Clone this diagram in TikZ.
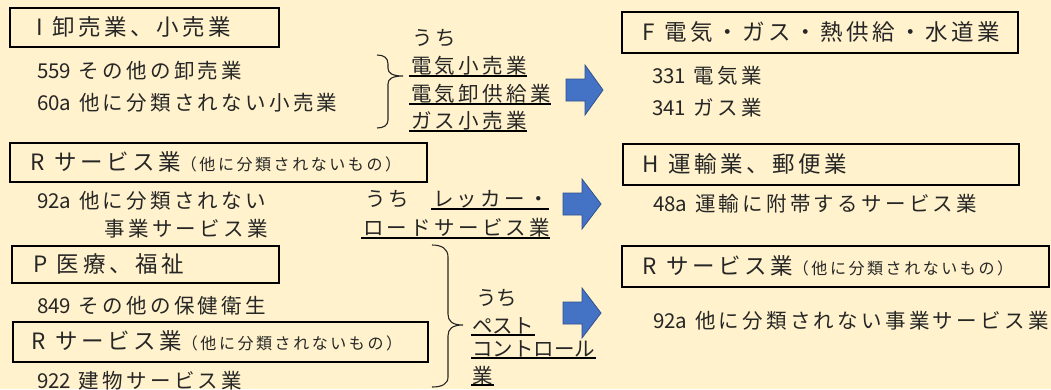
\documentclass[tikz,border=0pt]{standalone}
\usepackage{fontspec}
\setmainfont{Noto Sans CJK JP}[LetterSpace=16]
\newfontfamily\lat{Noto Sans CJK JP}
\definecolor{bg}{HTML}{FFF2CC}
\definecolor{ink}{HTML}{262626}
\definecolor{arrowfill}{HTML}{4472C4}
\definecolor{arrowline}{HTML}{2F528F}
\newcommand\hsz{\fontsize{22.5}{27}\selectfont}
\newcommand\isz{\fontsize{20.5}{25}\selectfont}
\newcommand\ssz{\fontsize{16}{20}\selectfont}
\newcommand\hgap{\hspace{4.5pt}}
\newcommand\igap{\hspace{3pt}}
\tikzset{
  boxn/.style={draw=black, line width=2pt, inner sep=0pt, anchor=north west},
  hdr/.style={anchor=base west, inner sep=0pt, text=ink, font=\hsz},
  itm/.style={anchor=base west, inner sep=0pt, text=ink, font=\isz},
  tight/.style={itm, font=\isz\lat},
  ul/.style={line width=1.5pt, black},
  brc/.style={line width=1.1pt, ink},
  bigarrow/.style={fill=arrowfill, draw=arrowline, line width=0.8pt, line join=miter},
}
\begin{document}
\begin{tikzpicture}[x=1pt,y=-1pt]
\fill[bg] (0,0) rectangle (1051,389);
\useasboundingbox (0,0) rectangle (1051,389);
% Row 1
\node[boxn, minimum width=269pt, minimum height=39pt] (bI) at (9,7) {};
\node[hdr] (hI) at (36,35) {{\lat I }\hgap 卸売業、小売業};
\node[itm] (i559) at (37,78) {{\lat 559 }\igap その他の卸売業};
\node[itm] (i60a) at (37,110) {{\lat 60a }\igap 他に分類されない小売業};
\node[itm] (uchi1) at (412,45) {うち};
\node[itm] (u11) at (411,73) {電気小売業};
\node[itm] (u12) at (411,101) {電気卸供給業};
\node[itm] (u13) at (411,128) {ガス小売業};
\foreach \n in {u11,u12,u13}
  \draw[ul] ([xshift=-2pt,yshift=-3pt]\n.base west) -- ([yshift=-3pt]\n.base east);
\draw[brc] (377,55) .. controls (384,55) and (388,58) .. (388,64) -- (388,68)
  .. controls (388,73) and (392,76) .. (403,76)
  .. controls (392,76) and (388,79) .. (388,84) -- (388,120)
  .. controls (388,125) and (384,128) .. (377,128);
\draw[bigarrow] (566,79) -- (585,79) -- (585,65) -- (603,90) -- (585,115) -- (585,101) -- (566,101) -- cycle;
\node[boxn, minimum width=396pt, minimum height=41pt] (bF) at (621,11) {};
\node[hdr] (hF) at (642,40) {{\lat F }\hgap 電気・ガス・熱供給・水道業};
\node[itm] (i331) at (652,83) {{\lat 331 }\igap 電気業};
\node[itm] (i341) at (652,115) {{\lat 341 }\igap ガス業};
% Row 2
\node[boxn, minimum width=417pt, minimum height=39pt] (bR2) at (9,142) {};
\node[hdr] (hR2) at (30,170) {{\lat R }\hgap サービス業{\ssz （他に分類されないもの）}};
\node[itm] (i92a) at (37,208) {{\lat 92a }\igap 他に分類されない};
\node[itm, anchor=base east] (i92b) at (268,236) {事業サービス業};
\node[itm] (uchi2) at (365,206) {うち};
\node[itm] (u21) at (433,206) {レッカー・};
\node[itm] (u22) at (363,235) {ロードサービス業};
\foreach \n in {u21,u22}
  \draw[ul] ([xshift=-2pt,yshift=-3pt]\n.base west) -- ([yshift=-3pt]\n.base east);
\draw[bigarrow] (563,193) -- (582,193) -- (582,179) -- (601,204) -- (582,229) -- (582,215) -- (563,215) -- cycle;
\node[boxn, minimum width=396pt, minimum height=41pt] (bH) at (622,143) {};
\node[hdr] (hH) at (642,172) {{\lat H }\hgap 運輸業、郵便業};
\node[itm] (i48a) at (653,211) {{\lat 48a }\igap 運輸に附帯するサービス業};
% Row 3
\node[boxn, minimum width=267pt, minimum height=37pt] (bP) at (11,245) {};
\node[hdr] (hP) at (33,272) {{\lat P }\hgap 医療、福祉};
\node[itm] (i849) at (37,313) {{\lat 849 }\igap その他の保健衛生};
\node[boxn, minimum width=415pt, minimum height=40pt] (bR3) at (12,321) {};
\node[hdr] (hR3) at (31,349) {{\lat R }\hgap サービス業{\ssz （他に分類されないもの）}};
\node[itm] (i922) at (37,388) {{\lat 922 }\igap 建物サービス業};
\draw[brc] (432,245) .. controls (442,245) and (448,249) .. (448,257) -- (448,314)
  .. controls (448,321) and (452,325) .. (463,325)
  .. controls (452,325) and (448,329) .. (448,336) -- (448,377)
  .. controls (448,384) and (442,387) .. (432,387);
\node[tight] (uchi3) at (476,305) {うち};
\node[tight] (u31) at (472,333) {ペスト};
\node[tight] (u32) at (472,356) {コントロール};
\node[tight] (u33) at (472,383) {業};
\foreach \n in {u31,u32,u33}
  \draw[ul] ([xshift=-1pt,yshift=-2pt]\n.base west) -- ([xshift=1pt,yshift=-2pt]\n.base east);
\draw[bigarrow] (563,302) -- (582,302) -- (582,288) -- (601,313) -- (582,338) -- (582,324) -- (563,324) -- cycle;
\node[boxn, minimum width=427pt, minimum height=41pt] (bR4) at (621,245) {};
\node[hdr] (hR4) at (642,274) {{\lat R }\hgap サービス業{\ssz （他に分類されないもの）}};
\node[itm] (i92r) at (653,328) {{\lat 92a }\igap 他に分類されない事業サービス業};
\end{tikzpicture}
\end{document}
